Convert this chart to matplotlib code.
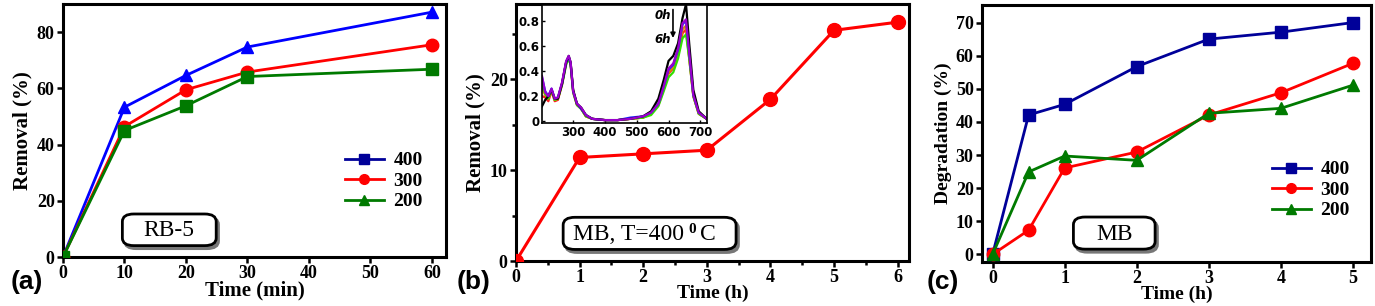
import matplotlib.pyplot as plt
from matplotlib.lines import Line2D
from matplotlib.patches import FancyBboxPatch

plt.rcParams['font.family'] = ['Liberation Serif', 'DejaVu Serif']
plt.rcParams['font.weight'] = 'bold'
plt.rcParams['axes.labelweight'] = 'bold'

# panel (a): RB-5 removal vs time (min)
t_a = [0, 10, 20, 30, 60]
a_400 = [0, 53.3, 64.6, 74.7, 87.1]
a_300 = [0, 46.4, 59.5, 65.8, 75.5]
a_200 = [0, 45.0, 53.8, 64.2, 66.8]

# panel (b): MB removal at 400 C vs time (h)
t_b = [0, 1, 2, 3, 4, 5, 6]
b_rem = [0, 11.4, 11.8, 12.2, 17.8, 25.4, 26.3]

# inset spectra (absorbance vs wavelength)
wl = [202, 212, 222, 232, 242, 252, 265, 278, 286, 292, 300, 312, 325, 340,
      360, 400, 440, 480, 520, 545, 568, 585, 600, 615, 630, 644, 655, 665,
      678, 695, 720]
sp_0h = [0.12, 0.17, 0.2, 0.25, 0.18, 0.18, 0.3, 0.47, 0.52, 0.47, 0.25, 0.14,
         0.11, 0.05, 0.02, 0.01, 0.01, 0.02, 0.04, 0.08, 0.18, 0.33, 0.48, 0.52,
         0.62, 0.82, 0.93, 0.62, 0.25, 0.08, 0.02]
sp_red = [0.2, 0.19, 0.16, 0.24, 0.16, 0.17, 0.29, 0.46, 0.5, 0.45, 0.23, 0.13,
          0.1, 0.04, 0.02, 0.01, 0.01, 0.02, 0.03, 0.06, 0.13, 0.26, 0.38, 0.42,
          0.52, 0.7, 0.73, 0.5, 0.2, 0.06, 0.02]
sp_org = [0.26, 0.21, 0.18, 0.25, 0.17, 0.18, 0.3, 0.47, 0.51, 0.46, 0.24, 0.13,
          0.1, 0.04, 0.02, 0.01, 0.01, 0.02, 0.03, 0.06, 0.13, 0.26, 0.39, 0.43,
          0.54, 0.73, 0.76, 0.52, 0.2, 0.06, 0.02]
sp_grn = [0.3, 0.22, 0.18, 0.25, 0.17, 0.18, 0.29, 0.45, 0.5, 0.45, 0.23, 0.13,
          0.1, 0.04, 0.02, 0.01, 0.01, 0.02, 0.03, 0.05, 0.12, 0.24, 0.35, 0.39,
          0.5, 0.66, 0.69, 0.5, 0.2, 0.06, 0.02]
sp_blu = [0.35, 0.24, 0.2, 0.26, 0.18, 0.19, 0.3, 0.47, 0.51, 0.46, 0.24, 0.14,
          0.1, 0.05, 0.02, 0.01, 0.01, 0.03, 0.04, 0.07, 0.14, 0.28, 0.41, 0.45,
          0.57, 0.77, 0.8, 0.55, 0.21, 0.07, 0.02]
sp_pur = [0.36, 0.23, 0.2, 0.26, 0.18, 0.19, 0.31, 0.48, 0.52, 0.47, 0.24, 0.14,
          0.11, 0.05, 0.02, 0.01, 0.01, 0.02, 0.04, 0.07, 0.14, 0.28, 0.42, 0.46,
          0.58, 0.78, 0.81, 0.55, 0.21, 0.07, 0.02]

# panel (c): MB degradation vs time (h)
t_c = [0, 0.5, 1, 2, 3, 4, 5]
c_400 = [0, 42.1, 45.3, 56.7, 65.0, 67.1, 70.0]
c_300 = [0, 7.3, 26.1, 30.9, 42.1, 48.8, 57.7]
c_200 = [0, 24.9, 29.7, 28.4, 42.6, 44.1, 51.1]

BLUE_A = '#0000ff'
NAVY = '#000099'
RED = '#ff0000'
GREEN = '#007a00'


def style_axes(ax):
    for s in ax.spines.values():
        s.set_linewidth(2.2)
    ax.tick_params(direction='out', width=1.8, length=4, labelsize=13, pad=2)
    for lab in ax.get_xticklabels() + ax.get_yticklabels():
        lab.set_fontweight('bold')


def label_box(ax, x, y, w, h):
    # rounded box with a grey drop shadow
    sh = FancyBboxPatch((x + 0.006, y - 0.012), w, h, transform=ax.transAxes,
                        boxstyle='round,pad=0,rounding_size=0.03',
                        fc='#777777', ec='#777777', lw=2, zorder=4)
    bx = FancyBboxPatch((x, y), w, h, transform=ax.transAxes,
                        boxstyle='round,pad=0,rounding_size=0.03',
                        fc='white', ec='black', lw=2, zorder=5)
    ax.add_patch(sh)
    ax.add_patch(bx)


def box_text(ax, x, y, text, size=17, weight='normal', ha='center'):
    return ax.text(x, y, text, transform=ax.transAxes, va='center', ha=ha,
                   fontsize=size, fontweight=weight, zorder=6)


def legend_handles(col400, m400):
    return [Line2D([], [], color=col400, marker=m400, lw=2, ms=7),
            Line2D([], [], color=RED, marker='o', lw=2, ms=7),
            Line2D([], [], color=GREEN, marker='^', lw=2, ms=7)]


fig = plt.figure(figsize=(13.75, 3.06), dpi=100)
W, H = 1375.0, 306.0

# ---- (a)
ax1 = fig.add_axes([63 / W, 1 - 257 / H, 383 / W, 253 / H])
ax1.plot(t_a, a_400, color=BLUE_A, marker='^', ms=9, lw=2, zorder=3)
ax1.plot(t_a, a_300, color=RED, marker='o', ms=9, lw=2, zorder=3)
ax1.plot(t_a, a_200, color=GREEN, marker='s', ms=8, lw=2, zorder=3)
ax1.set_xlim(0, 62.3)
ax1.set_ylim(0, 90)
ax1.set_xticks([0, 10, 20, 30, 40, 50, 60])
ax1.set_yticks([0, 20, 40, 60, 80])
ax1.set_xlabel('Time (min)', fontsize=15, labelpad=-1)
ax1.set_ylabel('Removal (%)', fontsize=15, labelpad=3)
style_axes(ax1)
ax1.legend(legend_handles(NAVY, 's'), ['400', '300', '200'], frameon=False,
           loc='center left', bbox_to_anchor=(0.69, 0.30),
           handlelength=2.0, labelspacing=0.15, handletextpad=0.5,
           prop={'weight': 'bold', 'size': 14})
label_box(ax1, 0.155, 0.045, 0.245, 0.125)
box_text(ax1, 0.2775, 0.103, 'RB-5')
fig.text(11 / W, 1 - 282 / H, '(a)', fontsize=19, fontweight='bold',
         family='Liberation Sans', va='center')

# ---- (b)
ax2 = fig.add_axes([516 / W, 1 - 261 / H, 393 / W, 257 / H])
ax2.plot(t_b, b_rem, color=RED, marker='o', ms=10, lw=2.2, zorder=3)
ax2.set_xlim(0, 6.18)
ax2.set_ylim(0, 28.3)
ax2.set_xticks([0, 1, 2, 3, 4, 5, 6])
ax2.set_xticks([0.5, 1.5, 2.5, 3.5, 4.5, 5.5], minor=True)
ax2.set_yticks([0, 10, 20])
ax2.set_yticks([5, 15, 25], minor=True)
ax2.tick_params(which='minor', direction='out', width=1.8, length=3)
ax2.set_xlabel('Time (h)', fontsize=14, labelpad=-1)
ax2.set_ylabel('Removal (%)', fontsize=15, labelpad=3)
style_axes(ax2)
label_box(ax2, 0.12, 0.045, 0.44, 0.125)
box_text(ax2, 0.145, 0.103, 'MB, T=400', ha='left')
box_text(ax2, 0.438, 0.122, '0', size=11, weight='bold', ha='left')
box_text(ax2, 0.467, 0.103, 'C', ha='left')

ins = fig.add_axes([542 / W, 1 - 123 / H, 165 / W, 118 / H])
for sp, col in [(sp_red, '#ff2020'), (sp_org, '#e08a00'), (sp_grn, '#33dd00'),
                (sp_blu, '#2020ff'), (sp_0h, 'black'), (sp_pur, '#9900cc')]:
    ins.plot(wl, sp, color=col, lw=1.6)
ins.set_xlim(202, 721)
ins.set_ylim(-0.013, 0.924)
ins.set_xticks([300, 400, 500, 600, 700])
ins.set_yticks([0, 0.2, 0.4, 0.6, 0.8])
ins.set_yticklabels(['0', '0.2', '0.4', '0.6', '0.8'])
for s in ins.spines.values():
    s.set_linewidth(1.2)
ins.tick_params(direction='in', length=2, width=1, labelsize=8.5, pad=2,
                labelfontfamily='DejaVu Sans')
for lab in ins.get_xticklabels() + ins.get_yticklabels():
    lab.set_fontweight('bold')
ins.annotate('', xy=(614, 0.64), xytext=(614, 0.91),
             arrowprops=dict(arrowstyle='-|>', color='black', lw=1.2,
                             mutation_scale=7))
ins.text(608, 0.84, '0h', ha='right', va='center', fontsize=8.5,
         style='italic', fontweight='bold', family='DejaVu Sans')
ins.text(608, 0.65, '6h', ha='right', va='center', fontsize=8.5,
         style='italic', fontweight='bold', family='DejaVu Sans')
fig.text(457 / W, 1 - 282 / H, '(b)', fontsize=19, fontweight='bold',
         family='Liberation Sans', va='center')

# ---- (c)
ax3 = fig.add_axes([982 / W, 1 - 262 / H, 389 / W, 257 / H])
ax3.plot(t_c, c_400, color=NAVY, marker='s', ms=8, lw=2, zorder=3)
ax3.plot(t_c, c_300, color=RED, marker='o', ms=9, lw=2, zorder=3)
ax3.plot(t_c, c_200, color=GREEN, marker='^', ms=9, lw=2, zorder=3)
ax3.set_xlim(-0.147, 5.25)
ax3.set_ylim(-2.3, 75.3)
ax3.set_xticks([0, 1, 2, 3, 4, 5])
ax3.set_yticks([0, 10, 20, 30, 40, 50, 60, 70])
ax3.set_xlabel('Time (h)', fontsize=14, labelpad=-1)
ax3.set_ylabel('Degradation (%)', fontsize=14, labelpad=3)
style_axes(ax3)
ax3.legend(legend_handles(NAVY, 's'), ['400', '300', '200'], frameon=False,
           loc='center left', bbox_to_anchor=(0.7, 0.28),
           handlelength=2.0, labelspacing=0.15, handletextpad=0.5,
           prop={'weight': 'bold', 'size': 14})
label_box(ax3, 0.235, 0.05, 0.21, 0.125)
box_text(ax3, 0.34, 0.108, 'MB')
fig.text(927 / W, 1 - 282 / H, '(c)', fontsize=19, fontweight='bold',
         family='Liberation Sans', va='center')

fig.savefig('out.png', dpi=100)
